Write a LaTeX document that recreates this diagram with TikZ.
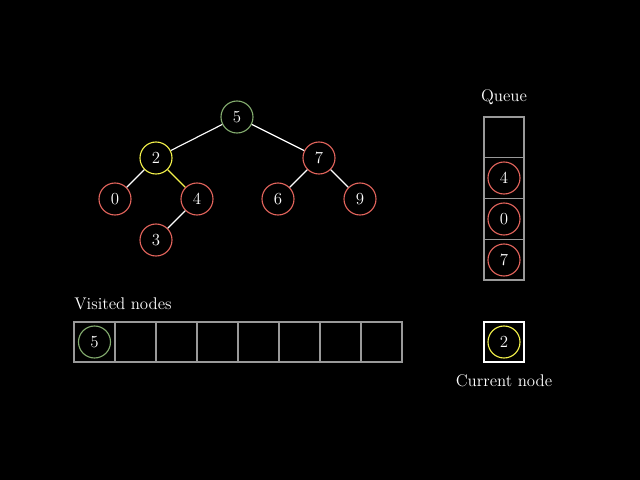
\documentclass[tikz,border=0pt]{standalone}
\usepackage{tikz}
\definecolor{vgreen}{HTML}{83AC6E}
\definecolor{vred}{HTML}{E2645C}
\definecolor{vyellow}{HTML}{F4F24A}
\tikzset{
  vtx/.style={circle, draw, thick, minimum size=32*0.025cm, inner sep=0pt, text=white, font=\large},
  cell/.style={draw=gray!80, thick},
  edge/.style={draw=white, thick}
}
\begin{document}
\begin{tikzpicture}[x=0.025cm, y=-0.025cm]
        \fill [black] (0,0) rectangle (640,480);
        % tree
        \node (n5) at (237,117) [vtx, draw=vgreen] {5};
        \node (n2) at (156,158) [vtx, draw=vyellow] {2};
        \node (n7) at (319,158) [vtx, draw=vred] {7};
        \node (n0) at (115,199) [vtx, draw=vred] {0};
        \node (n4) at (197,199) [vtx, draw=vred] {4};
        \node (n6) at (278,199) [vtx, draw=vred] {6};
        \node (n9) at (360,199) [vtx, draw=vred] {9};
        \node (n3) at (156,240) [vtx, draw=vred] {3};
        \draw [edge] (n5) -- (n2);
        \draw [edge] (n5) -- (n7);
        \draw [edge] (n2) -- (n0);
        \draw [edge, draw=vyellow] (n2) -- (n4);
        \draw [edge] (n4) -- (n3);
        \draw [edge] (n7) -- (n6);
        \draw [edge] (n7) -- (n9);
        % queue
        \node (qlabel) at (504,97) [text=white, font=\large] {Queue};
        \foreach \i in {0,...,3}
            \draw [cell] (484, 117+40.75*\i) rectangle (524, 117+40.75*\i+40.75);
        \node (q1) at (504,178) [vtx, draw=vred] {4};
        \node (q2) at (504,219) [vtx, draw=vred] {0};
        \node (q3) at (504,260) [vtx, draw=vred] {7};
        % visited
        \node (vlabel) at (74,304) [anchor=west, inner sep=0pt, text=white, font=\large] {Visited nodes};
        \foreach \i in {0,...,7}
            \draw [cell] (74+41*\i, 322) rectangle (74+41*\i+41, 362);
        \node (v1) at (94.5,342) [vtx, draw=vgreen] {5};
        % current
        \draw [thick, draw=white] (484,322) rectangle (524,362);
        \node (cur) at (504,342) [vtx, draw=vyellow] {2};
        \node (clabel) at (504,381) [text=white, font=\large] {Current node};
\end{tikzpicture}
\end{document}
